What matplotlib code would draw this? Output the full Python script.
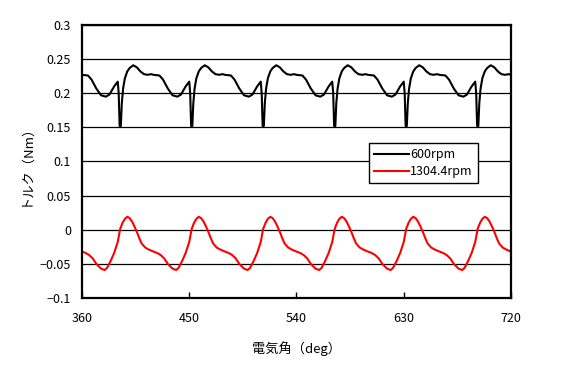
import numpy as np
import matplotlib
matplotlib.use('Agg')
import matplotlib.pyplot as plt

plt.rcParams['font.family'] = ['Noto Sans CJK JP', 'DejaVu Sans']

# one 60 deg cycle (phase in deg from the cycle start)
phase_600 = [0, 5, 8, 12, 16, 20, 23, 27, 30, 30.8, 31.6, 32.6, 33.4, 34.5, 36, 38, 40, 43, 46, 49, 52, 55, 58]
torque_600 = [0.227, 0.226, 0.220, 0.207, 0.197, 0.195, 0.198, 0.210, 0.217, 0.200, 0.152, 0.152, 0.185,
              0.207, 0.222, 0.232, 0.237, 0.241, 0.238, 0.232, 0.228, 0.227, 0.228]

phase_1304 = [0, 3, 6, 9, 12, 16, 19, 21, 24, 27, 30, 32, 34, 36, 38, 40, 42, 44, 46, 48, 50, 53, 56]
torque_1304 = [-0.032, -0.034, -0.037, -0.042, -0.050, -0.057, -0.059, -0.056, -0.046, -0.034, -0.018,
               0.001, 0.010, 0.016, 0.019, 0.017, 0.012, 0.005, -0.003, -0.012, -0.020, -0.026, -0.029]

cycle_starts = [360, 420, 480, 540, 600, 660]
x_ticks = [360, 450, 540, 630, 720]
y_ticks = [-0.1, -0.05, 0, 0.05, 0.1, 0.15, 0.2, 0.25, 0.3]

# the waveform repeats every 60 deg, so stack the same readings per cycle
x1 = [s + p for s in cycle_starts for p in phase_600] + [720]
y1 = torque_600 * len(cycle_starts) + [torque_600[0]]
x2 = [s + p for s in cycle_starts for p in phase_1304] + [720]
y2 = torque_1304 * len(cycle_starts) + [torque_1304[0]]

fig = plt.figure(figsize=(5.67, 3.65), dpi=100)
ax = fig.add_axes([0.1446, 0.1836, 0.9012 - 0.1446, 0.9315 - 0.1836])

ax.plot(x1, y1, color='black', lw=1.5, label='600rpm')
ax.plot(x2, y2, color='red', lw=1.5, label='1304.4rpm')

ax.set_xlim(360, 720)
ax.set_ylim(-0.1, 0.3)
ax.set_xticks(x_ticks)
ax.set_yticks(y_ticks)
ax.set_yticklabels(['{:g}'.format(v).replace('-', '\u2212') for v in y_ticks])
ax.yaxis.grid(True, color='black', lw=0.9)
ax.set_axisbelow(True)

for s in ax.spines.values():
    s.set_linewidth(1.6)
ax.tick_params(axis='x', direction='in', length=4, width=1, labelsize=9, pad=10)
ax.tick_params(axis='y', length=0, labelsize=9, pad=8)

ax.set_xlabel('電気角（deg）', fontsize=9.5, labelpad=12)
ax.set_ylabel('トルク（Nm）', fontsize=9.5, labelpad=5)

leg = ax.legend(loc='upper left', bbox_to_anchor=(0.669, 0.567), fontsize=9,
                frameon=True, fancybox=False, framealpha=1, edgecolor='black',
                handlelength=2.8, handletextpad=0.1, borderpad=0.4, labelspacing=0.3,
                borderaxespad=0)
leg.get_frame().set_linewidth(1.0)

fig.savefig('out.png', dpi=100)
